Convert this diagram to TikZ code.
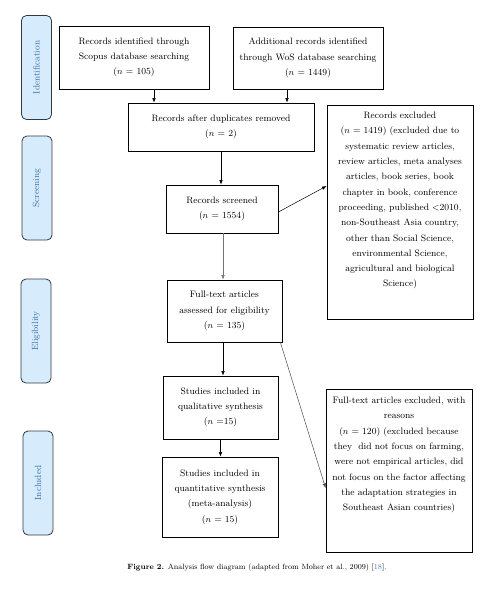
\documentclass[tikz,border=0pt]{standalone}
\usetikzlibrary{arrows.meta,calc}
\definecolor{sidefill}{HTML}{D6ECFC}
\definecolor{sidetext}{HTML}{3A6DB0}
\definecolor{sidedraw}{HTML}{2F3A45}
\definecolor{citeblue}{HTML}{3B7BC8}
\begin{document}
\begin{tikzpicture}[x=1pt,y=-1pt,
  box/.style={draw,line width=0.8pt,inner sep=0pt,align=center,
    font=\fontsize{9.3}{15.3}\selectfont},
  txt/.style={inner sep=0pt,align=center,text width=140pt,
    font=\fontsize{9.3}{15.3}\selectfont},
  side/.style={draw=sidedraw,fill=sidefill,line width=0.8pt,rounded corners=5pt,
    rotate=90,minimum width=104pt,minimum height=30pt,inner sep=0pt,
    text=sidetext,font=\fontsize{9}{10}\selectfont},
  arr/.style={line width=0.5pt,-{Latex[length=4.5pt,width=3.5pt]}}]
\useasboundingbox (0,0) rectangle (495,595);
% side labels
\node[side] (sid) at (36.5,67.5) {Identification};
\node[side] (sscr) at (37,188) {Screening};
\node[side] (selig) at (36,331) {Eligibility};
\node[side] (sinc) at (38,483) {Included};
% boxes
\node[box,minimum width=150pt,minimum height=63pt] (scopus) at (134,57.5)
  {Records identified through\\Scopus database searching\\($n$ = 105)};
\node[box,minimum width=150pt,minimum height=62pt] (wos) at (308,58)
  {Additional records identified\\through WoS database searching\\($n$ = 1449)};
\node[box,minimum width=186pt,minimum height=48pt] (dup) at (221,127)
  {Records after duplicates removed\\($n$ = 2)};
\node[box,minimum width=146pt,minimum height=214pt] (excl) at (400,212) {};
\node[txt,anchor=north] (excltext) at (400,112)
  {Records excluded\\($n$ = 1419) (excluded due to\\systematic review articles,\\review articles, meta analyses\\articles, book series, book\\chapter in book, conference\\proceeding, published <2010,\\non-Southeast Asia country,\\other than Social Science,\\environmental Science,\\agricultural and biological\\Science)};
\node[box,minimum width=112pt,minimum height=48pt] (screened) at (222,209)
  {Records screened\\($n$ = 1554)};
\node[box,minimum width=115pt,minimum height=62pt] (full) at (224.5,311)
  {Full-text articles\\assessed for eligibility\\($n$ = 135)};
\node[box,minimum width=115pt,minimum height=63pt] (qual) at (220.5,407.5)
  {Studies included in\\qualitative synthesis\\($n$ =15)};
\node[box,minimum width=116pt,minimum height=80pt] (quant) at (220,497)
  {Studies included in\\quantitative synthesis\\(meta-analysis)\\($n$ = 15)};
\node[box,minimum width=146pt,minimum height=163pt] (fexcl) at (399,470.5) {};
\node[txt,anchor=north] (fexcltext) at (399,397)
  {Full-text articles excluded, with\\reasons\\($n$ = 120) (excluded because\\they\ \ did not focus on farming,\\were not empirical articles, did\\not focus on the factor affecting\\the adaptation strategies in\\Southeast Asian countries)};
% connectors
\draw[arr] ([xshift=20pt]scopus.south) -- ([xshift=20pt]scopus.south |- dup.north);
\draw[arr] ([xshift=-21pt]wos.south) -- ([xshift=-21pt]wos.south |- dup.north);
\draw[arr] (dup.south) -- (dup.south |- screened.north);
\draw[arr] ([yshift=-3pt]screened.east) -- ([yshift=26pt]excl.west);
\draw[arr,draw=black!55] ([xshift=1pt]screened.south) -- ([xshift=1pt]screened.south |- full.north);
\draw[arr] ([xshift=-1.5pt]full.south) -- ([xshift=-1.5pt]full.south |- qual.north);
\draw[arr] (qual.south) -- (qual.south |- quant.north);
\draw[arr,draw=black!70] ([xshift=-2pt]full.south east) -- ([yshift=-17.5pt]fexcl.west);
% caption
\node[inner sep=0pt,font=\fontsize{7.6}{9}\selectfont] (caption) at (257,568)
  {\textbf{Figure 2.} Analysis flow diagram (adapted from Moher et al., 2009) [\textcolor{citeblue}{18}].};
\end{tikzpicture}
\end{document}
